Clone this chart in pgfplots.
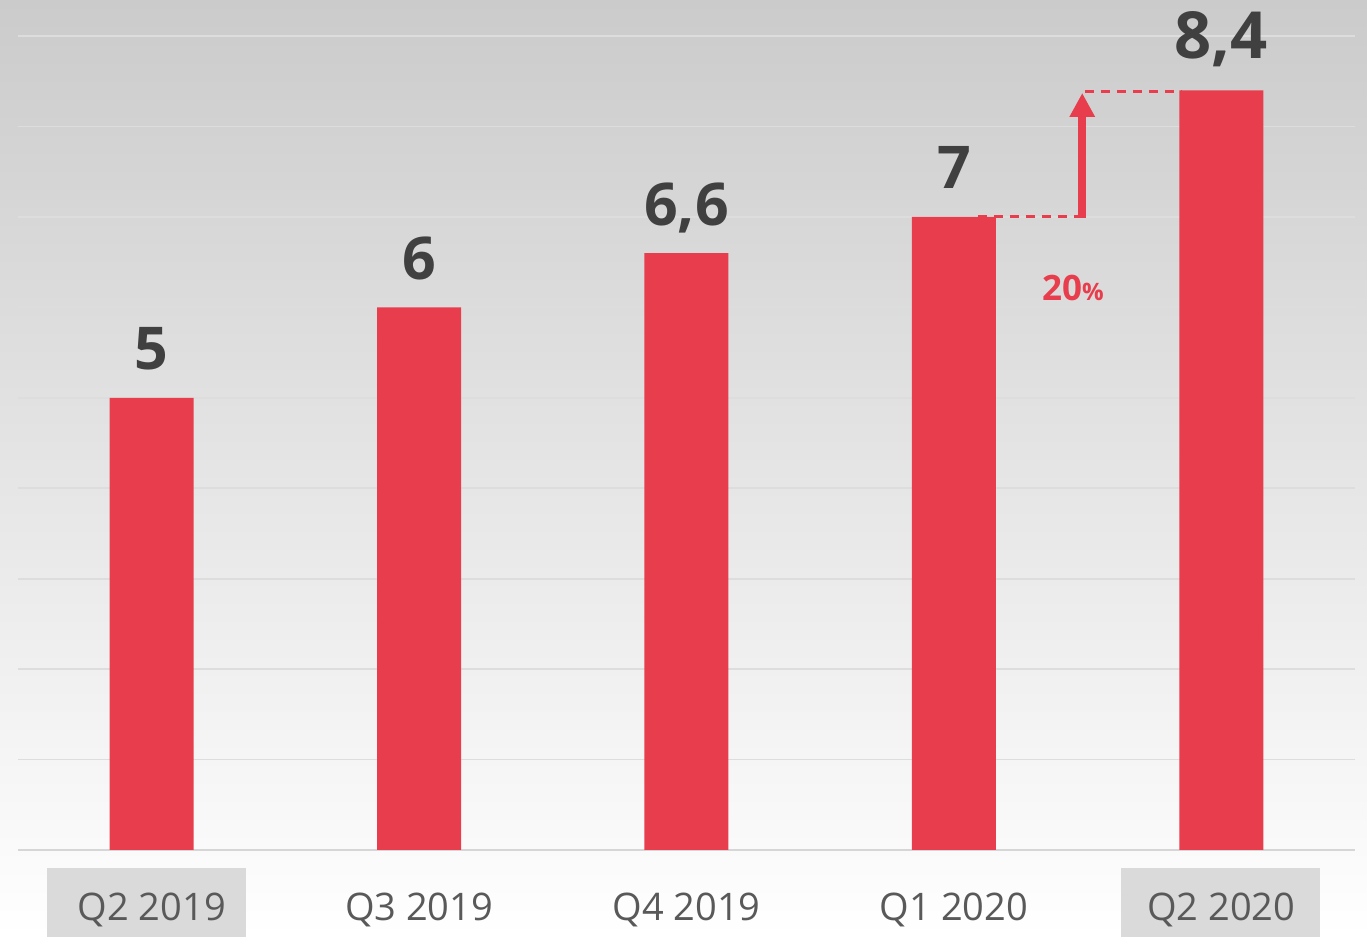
\documentclass[border=0pt]{standalone}
\usepackage{pgfplots}
\pgfplotsset{compat=1.18}
\usepackage{fontspec}
\setmainfont{Open Sans}
\usetikzlibrary{arrows.meta}
\definecolor{barred}{HTML}{E83D4D}
\definecolor{labelgray}{HTML}{404040}
\definecolor{tickgray}{HTML}{595959}
\definecolor{gridc}{HTML}{DDDDDD}
\definecolor{basec}{HTML}{D6D6D6}
\definecolor{boxgray}{HTML}{DADADA}
\definecolor{bgtop}{HTML}{CBCBCB}
\definecolor{bgmid}{HTML}{E2E2E2}
\pgfplotstableread{
x y lab
0 5   5
1 6   6
2 6.6 {6,6}
3 7   7
4 8.4 {{\fontsize{32.5}{33}\selectfont\raisebox{2pt}{8,4}}}
}\datatable
\begin{document}
\begin{tikzpicture}
\path[use as bounding box] (0,0) rectangle (683.5pt,468.5pt);
\shade[top color=bgtop, middle color=bgmid, bottom color=white] (0,0) rectangle (683.5pt,468.5pt);
\fill[boxgray] (23.5pt,0) rectangle (123pt,34.5pt);
\fill[boxgray] (560.5pt,0) rectangle (660pt,34.5pt);
\begin{axis}[
  at={(9pt,43.5pt)}, anchor=south west,
  scale only axis, width=668.5pt, height=407pt,
  xmin=-0.5, xmax=4.5, ymin=0, ymax=9,
  clip=false,
  axis line style={draw=none},
  major tick length=0pt,
  xtick={0,1,2,3,4},
  xticklabels={Q2 2019, Q3 2019, Q4 2019, Q1 2020, Q2 2020},
  xticklabel style={anchor=base, yshift=-35.5pt, text=tickgray, font=\fontsize{19}{20}\selectfont},
  ytick={1,...,9}, yticklabels={},
  ymajorgrids, grid style={draw=gridc, line width=0.9pt},
  extra y ticks={0}, extra y tick labels={},
  extra y tick style={grid style={draw=basec, line width=1pt}},
]
\addplot[ybar, bar width=42pt, fill=barred, draw=none,
  point meta=explicit symbolic,
  nodes near coords,
  nodes near coords style={anchor=base, yshift=14pt, text=labelgray, font=\fontsize{29.5}{30}\selectfont\bfseries},
] table[x=x, y=y, meta=lab] {\datatable};
\draw[barred, line width=1.5pt, dash pattern=on 4.5pt off 3.5pt] (axis cs:3.09,7) -- (axis cs:3.48,7);
\draw[barred, line width=1.5pt, dash pattern=on 4.5pt off 3.5pt] (axis cs:3.49,8.39) -- (axis cs:3.85,8.39);
\draw[barred, line width=4pt, -{Triangle[width=12pt,length=12pt]}] (axis cs:3.48,6.99) -- (axis cs:3.48,8.37);
\node[anchor=base, text=barred, font=\fontsize{17.5}{18}\selectfont\bfseries] at (axis cs:3.445,6.08) {20{\fontsize{12}{12}\selectfont\%}};
\end{axis}
\end{tikzpicture}
\end{document}
